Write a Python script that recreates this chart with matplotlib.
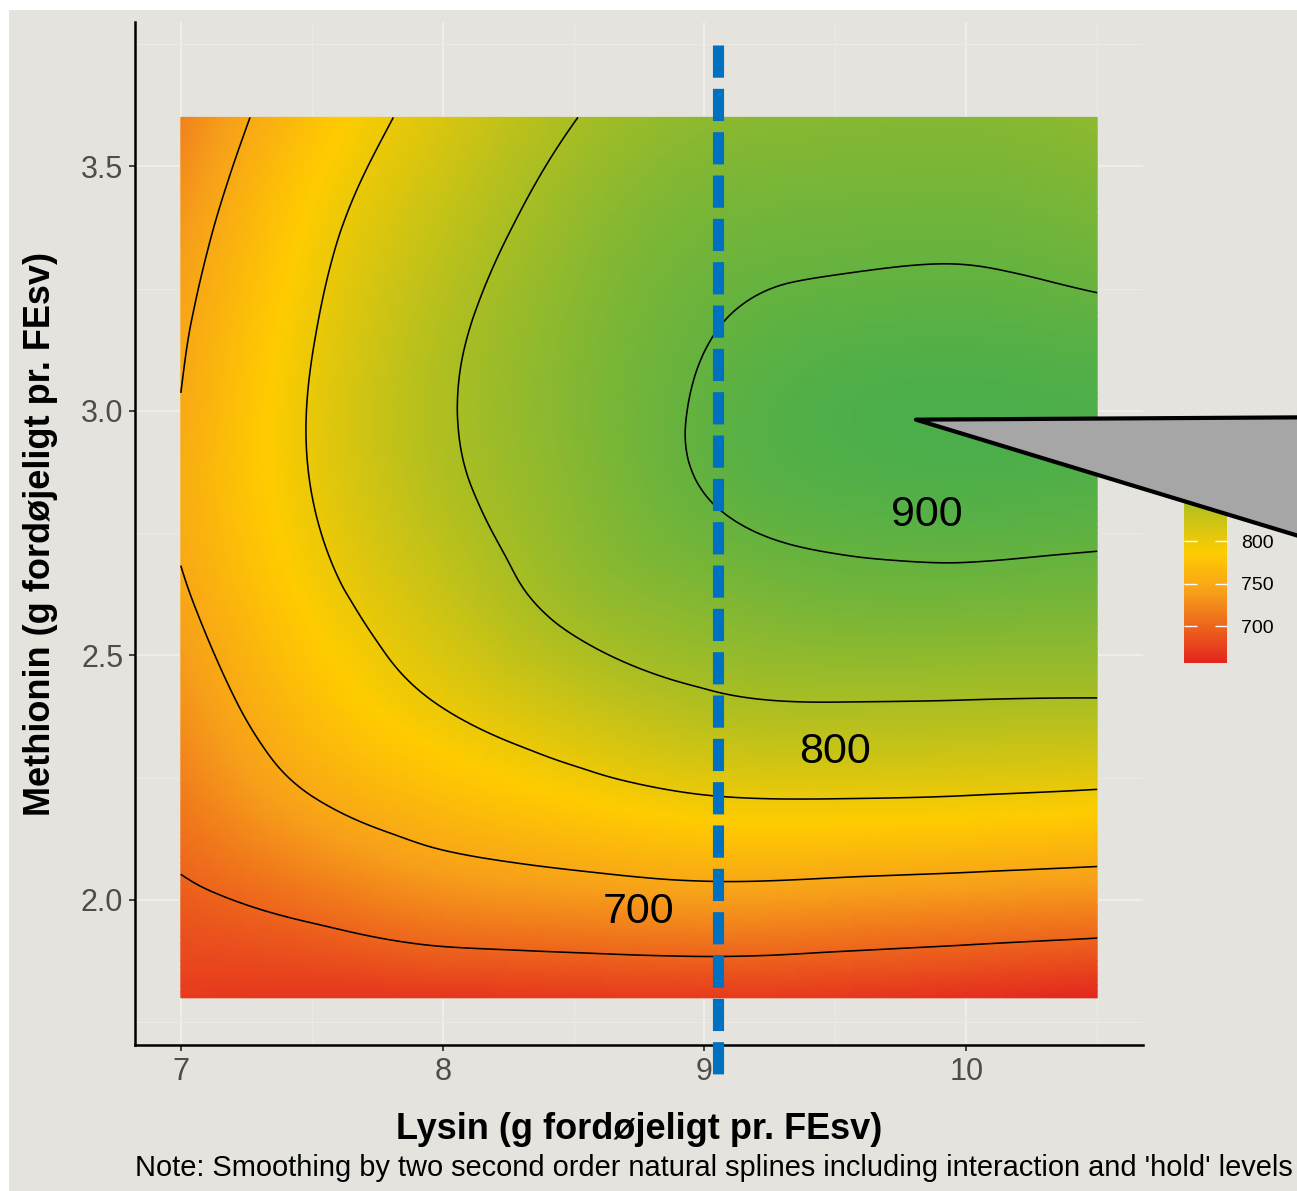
import numpy as np
import matplotlib.pyplot as plt
import matplotlib.tri as mtri
from matplotlib.colors import LinearSegmentedColormap, Normalize
from matplotlib.patches import Polygon, Rectangle

plt.rcParams['font.family'] = ['Liberation Sans', 'DejaVu Sans']

# grid
lysin = [7.0, 7.5, 8.0, 8.5, 9.0, 9.5, 10.0, 10.5]
methionin = [1.8, 2.0, 2.2, 2.4, 2.6, 2.8, 3.0, 3.2, 3.4, 3.6]
# predicted response, one row per methionin level (bottom to top)
response = [
    [672, 668, 668, 670, 671, 669, 664, 657],
    [694, 710, 726, 733, 738, 735, 731, 727],
    [715, 748, 769, 784, 796, 798, 796, 792],
    [731, 772, 801, 825, 844, 849, 848, 847],
    [745, 788, 824, 858, 876, 886, 887, 885],
    [754, 799, 840, 872, 898, 909, 912, 909],
    [751, 802, 846, 877, 903, 917, 920, 918],
    [745, 797, 841, 874, 897, 906, 908, 904],
    [734, 788, 829, 864, 886, 891, 892, 886],
    [720, 774, 814, 849, 870, 875, 876, 870],
]
contour_levels = [700, 750, 800, 850, 900]
bar_ticks = [700, 750, 800, 850, 900]

# labels put on the contours
lab_text = ['700', '800', '900']
lab_x = [8.75, 9.50, 9.85]
lab_y = [1.975, 2.303, 2.787]

lysin_line = 9.05          # dashed reference line
optimum = (9.808, 2.982)   # tip of the callout

bg = '#E4E3DD'
cmap = LinearSegmentedColormap.from_list(
    'gain', [(0.0, '#E3261E'), (0.32, '#F7A11A'), (0.49, '#FFCC00'), (1.0, '#4BAE4A')])

W, H = 1297, 1191
fig = plt.figure(figsize=(W / 100, H / 100), dpi=100, facecolor='white')
fig.add_artist(Rectangle((9 / W, 0), 1, 1 - 10 / H, transform=fig.transFigure,
                         facecolor=bg, edgecolor='none', zorder=-10))

ax = fig.add_axes([135 / W, (H - 1045) / H, (1143 - 135) / W, (1045 - 22) / H])
ax.set_facecolor(bg)

X, Y = np.meshgrid(lysin, methionin)
Z = np.array(response, dtype=float)
tri = mtri.Triangulation(X.ravel(), Y.ravel())
interp = mtri.CubicTriInterpolator(tri, Z.ravel(), kind='min_E')
refiner = mtri.UniformTriRefiner(tri)
tri_f, z_f = refiner.refine_field(Z.ravel(), subdiv=4, triinterpolator=interp)

norm = Normalize(vmin=Z.min(), vmax=Z.max())
tpc = ax.tripcolor(tri_f, z_f, shading='gouraud', cmap=cmap, norm=norm, zorder=2)
ax.tricontour(tri_f, z_f, levels=contour_levels, colors='black', linewidths=1.15, zorder=3)

for t, x, y in zip(lab_text, lab_x, lab_y):
    ax.text(x, y, t, fontsize=31, ha='center', va='center', zorder=4)

ax.set_xlim(6.825, 10.675)
ax.set_ylim(1.7035, 3.795)
ax.set_xticks([7, 8, 9, 10])
ax.set_yticks([2.0, 2.5, 3.0, 3.5])
ax.set_yticklabels(['2.0', '2.5', '3.0', '3.5'])
ax.set_xticks([7.5, 8.5, 9.5, 10.5], minor=True)
ax.set_yticks([1.75, 2.25, 2.75, 3.25, 3.75], minor=True)
ax.grid(True, which='major', color='#EFEEEA', linewidth=1.4, zorder=0)
ax.grid(True, which='minor', color='#EBEAE5', linewidth=0.8, zorder=0)
ax.set_axisbelow(True)
ax.tick_params(which='major', length=4.5, width=1.3, color='#333333',
               labelsize=22, labelcolor='#4D4D4D', pad=4)
ax.tick_params(which='minor', length=0)
for s in ['top', 'right']:
    ax.spines[s].set_visible(False)
for s in ['left', 'bottom']:
    ax.spines[s].set_linewidth(1.8)
    ax.spines[s].set_color('black')

ax.set_xlabel('Lysin (g fordøjeligt pr. FEsv)', fontsize=26, fontweight='bold', labelpad=18)
ax.set_ylabel('Methionin (g fordøjeligt pr. FEsv)', fontsize=26, fontweight='bold', labelpad=16)

# dashed vertical reference line, runs past the panel
ax.plot([lysin_line, lysin_line], [3.748, 1.636], color='#0070C0', linewidth=8,
        linestyle=(0, (2.9, 1.0)), solid_capstyle='butt', dash_capstyle='butt',
        clip_on=False, zorder=5)

# colour bar
cax = fig.add_axes([1184 / W, 1 - 663 / H, 43 / W, 224 / H])
cb = fig.colorbar(tpc, cax=cax, ticks=bar_ticks)
cb.outline.set_visible(False)
cax.tick_params(direction='in', length=9, width=1, color='white', left=True, right=True,
                labelsize=14, labelcolor='black', pad=10)

fig.text(135 / W, 1 - 1168 / H,
         "Note: Smoothing by two second order natural splines including interaction and 'hold' levels",
         fontsize=20.9, ha='left', va='center')

# grey callout pointing at the optimum
fig.canvas.draw()
px, py = ax.transData.transform(optimum)
corners = [(px, py), (px + 500, py + 3), (px + 500, py - 152)]
corners = fig.transFigure.inverted().transform(corners)
fig.add_artist(Polygon(corners, closed=True, transform=fig.transFigure, facecolor='#A6A6A6',
                       edgecolor='black', linewidth=3, joinstyle='round', zorder=20))

fig.savefig('out.png', dpi=100, facecolor='white')
